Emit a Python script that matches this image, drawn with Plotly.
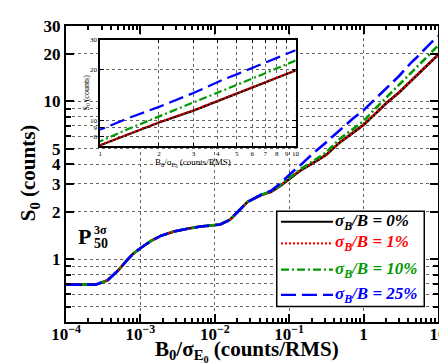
import math
import plotly.graph_objects as go

# B0/sigma_E0 (counts/RMS)
ratio = [1e-4, 1.6e-4, 2.5e-4, 3.6e-4, 5.1e-4, 6.9e-4, 8.0e-4, 1.04e-3, 1.41e-3, 1.9e-3,
         2.83e-3, 4.28e-3, 6.42e-3, 1.18e-2, 1.6e-2, 2.04e-2, 2.76e-2, 4.22e-2, 5.71e-2, 7.74e-2,
         0.105, 0.142, 0.211, 0.313, 0.48, 0.7, 1.0, 1.4, 2.0, 3.0, 4.4, 5.0, 7.0, 10.0]

# S0 (counts) for each sigma_B/B
s0_0pct = [0.69, 0.69, 0.69, 0.734, 0.855, 1.01, 1.084, 1.19, 1.31, 1.41,
           1.50, 1.56, 1.61, 1.66, 1.78, 2.0, 2.31, 2.55, 2.67, 2.94,
           3.30, 3.65, 4.08, 4.58, 5.5, 6.25, 7.1, 8.25, 9.7, 11.4, 13.6, 14.4, 16.7, 19.7]
s0_1pct = [0.69, 0.69, 0.69, 0.735, 0.856, 1.01, 1.085, 1.19, 1.31, 1.41,
           1.50, 1.56, 1.61, 1.66, 1.78, 2.0, 2.31, 2.55, 2.67, 2.94,
           3.31, 3.66, 4.09, 4.59, 5.52, 6.27, 7.12, 8.27, 9.72, 11.45, 13.65, 14.45, 16.75, 19.75]
s0_10pct = [0.69, 0.69, 0.69, 0.734, 0.855, 1.01, 1.084, 1.19, 1.31, 1.41,
            1.50, 1.56, 1.61, 1.66, 1.78, 2.0, 2.31, 2.56, 2.69, 2.97,
            3.34, 3.72, 4.2, 4.75, 5.8, 6.6, 7.5, 8.9, 10.5, 12.7, 15.2, 16.2, 19.0, 22.6]
s0_25pct = [0.69, 0.69, 0.69, 0.734, 0.855, 1.01, 1.084, 1.19, 1.31, 1.41,
            1.50, 1.56, 1.61, 1.66, 1.78, 2.0, 2.31, 2.57, 2.72, 3.05,
            3.5, 3.95, 4.7, 5.5, 6.6, 7.7, 8.8, 10.3, 12.0, 14.5, 17.7, 18.7, 22.0, 26.0]

labels = ["0%", "1%", "10%", "25%"]
colors = ["black", "#ff0000", "#009900", "#0000ff"]
dashes = ["solid", "2px,2px", "8px,3px,2px,3px", "15px,6px"]
series = [s0_0pct, s0_1pct, s0_10pct, s0_25pct]

W, H = 447, 364
L, R, T, B = 58, 10, 9, 50
FONT = "Liberation Serif"


def px(x):
    return (x - L) / (W - L - R)


def py(y):
    return (H - B - y) / (H - T - B)


fig = go.Figure()

for ys, c, d, lab in zip(series, colors, dashes, labels):
    fig.add_trace(go.Scatter(x=ratio, y=ys, mode="lines", name=lab,
                             line=dict(color=c, width=2.6, dash=d),
                             xaxis="x", yaxis="y", showlegend=False))
for ys, c, d, lab in zip(series, colors, dashes, labels):
    fig.add_trace(go.Scatter(x=ratio, y=ys, mode="lines", name=lab,
                             line=dict(color=c, width=2.2, dash=d),
                             xaxis="x2", yaxis="y2", showlegend=False))

decades = [1e-4, 1e-3, 1e-2, 1e-1, 1, 10]
dec_text = ["10<sup>\u22124</sup>", "10<sup>\u22123</sup>", "10<sup>\u22122</sup>",
            "10<sup>\u22121</sup>", "1", "10"]
x_minor = [m * d for d in decades[:-1] for m in range(2, 10)]

y_major = [1, 2, 3, 4, 5, 10, 20, 30]
y_minor = [0.5, 0.6, 0.7, 0.8, 0.9, 6, 7, 8, 9]

grid = dict(showgrid=True, gridcolor="#666666", griddash="dot", gridwidth=1)
frame = dict(showline=True, linecolor="black", mirror="ticks", ticks="inside",
             tickcolor="black", ticklabeloverflow="allow")

in_x0, in_x1 = px(92.7), px(292)
in_y0, in_y1 = py(133), py(23)

fig.update_layout(
    width=W, height=H,
    margin=dict(l=L, r=R, t=T, b=B),
    paper_bgcolor="white", plot_bgcolor="white",
    font=dict(family=FONT, color="black"),
    xaxis=dict(type="log", range=[-4.0005, 1.0005], domain=[0, 1], anchor="y",
               tickvals=decades, ticktext=dec_text, ticklen=8, tickwidth=1.5,
               linewidth=2, tickfont=dict(size=17, weight="bold"), ticklabelstandoff=-4,
               minor=dict(tickvals=x_minor, ticklen=4, ticks="inside",
                          tickcolor="black", showgrid=False),
               **grid, **frame),
    yaxis=dict(type="log", range=[math.log10(0.4), math.log10(30) + 0.001], domain=[0, 1],
               anchor="x", tickvals=y_major, ticktext=[str(v) for v in y_major],
               ticklen=8, tickwidth=1.5, linewidth=2,
               tickfont=dict(size=17, weight="bold"),
               minor=dict(tickvals=y_minor, ticklen=5, ticks="inside",
                          tickcolor="black", showgrid=True, gridcolor="#666666",
                          griddash="dot", gridwidth=1),
               **grid, **frame),
    xaxis2=dict(type="log", range=[-0.0005, 1.0005], domain=[in_x0, in_x1], anchor="y2",
                tickvals=list(range(1, 11)), ticktext=[str(v) for v in range(1, 11)],
                ticklen=4, linewidth=1.5, tickfont=dict(size=7),
                **grid, **frame),
    yaxis2=dict(type="log", range=[math.log10(7), math.log10(30) + 0.001],
                domain=[in_y0, in_y1], anchor="x2",
                tickvals=[8, 9, 10, 20, 30], ticktext=["8", "9", "10", "20", "30"],
                ticklen=4, linewidth=1.5, tickfont=dict(size=7),
                **grid, **frame),
)

# white background of the inset
fig.add_shape(type="rect", xref="x2 domain", yref="y2 domain", x0=0, x1=1, y0=0, y1=1,
              fillcolor="white", line=dict(width=0), layer="below")

# legend drawn by hand
fig.add_shape(type="rect", xref="paper", yref="paper",
              x0=px(272.7), x1=px(423), y0=py(298), y1=py(200),
              fillcolor="white", line=dict(color="black", width=1.5), layer="above")
leg_y = [210.7, 233, 260, 286]
for yy, c, d, lab in zip(leg_y, colors, dashes, labels):
    fig.add_shape(type="line", xref="paper", yref="paper",
                  x0=px(277), x1=px(330), y0=py(yy), y1=py(yy),
                  line=dict(color=c, width=2.2, dash=d), layer="above")
    fig.add_annotation(xref="paper", yref="paper", x=px(330), y=py(yy),
                       xanchor="left", yanchor="middle", showarrow=False,
                       text="<b><i>\u03c3<sub>B</sub>/B = " + lab + "</i></b>",
                       font=dict(size=17, color=c))

# axis titles
fig.add_annotation(xref="paper", yref="paper", x=px(242), y=py(344),
                   xanchor="center", yanchor="middle", showarrow=False,
                   text="<b>B<sub>0</sub>/\u03c3<sub>E<sub>0</sub></sub> (counts/RMS)</b>",
                   font=dict(size=21))
fig.add_annotation(xref="paper", yref="paper", x=px(20), y=py(160),
                   xanchor="center", yanchor="middle", showarrow=False, textangle=-90,
                   text="<b>S<sub>0</sub> (counts)</b>", font=dict(size=21))

# inset titles
fig.add_annotation(xref="paper", yref="paper", x=px(187), y=py(150),
                   xanchor="center", yanchor="middle", showarrow=False,
                   text="B<sub>0</sub>/\u03c3<sub>E<sub>0</sub></sub> (counts/RMS)",
                   font=dict(size=9))
fig.add_annotation(xref="paper", yref="paper", x=px(79), y=py(78),
                   xanchor="center", yanchor="middle", showarrow=False, textangle=-90,
                   text="S<sub>0</sub> (counts)", font=dict(size=8))

# P_50^{3 sigma}
fig.add_annotation(xref="paper", yref="paper", x=px(77), y=py(226),
                   xanchor="center", yanchor="middle", showarrow=False,
                   text="<b>P</b>", font=dict(size=22))
fig.add_annotation(xref="paper", yref="paper", x=px(84), y=py(219),
                   xanchor="left", yanchor="middle", showarrow=False,
                   text="<b>3\u03c3</b>", font=dict(size=12))
fig.add_annotation(xref="paper", yref="paper", x=px(84), y=py(233),
                   xanchor="left", yanchor="middle", showarrow=False,
                   text="<b>50</b>", font=dict(size=14))

fig.write_html("out.html")
